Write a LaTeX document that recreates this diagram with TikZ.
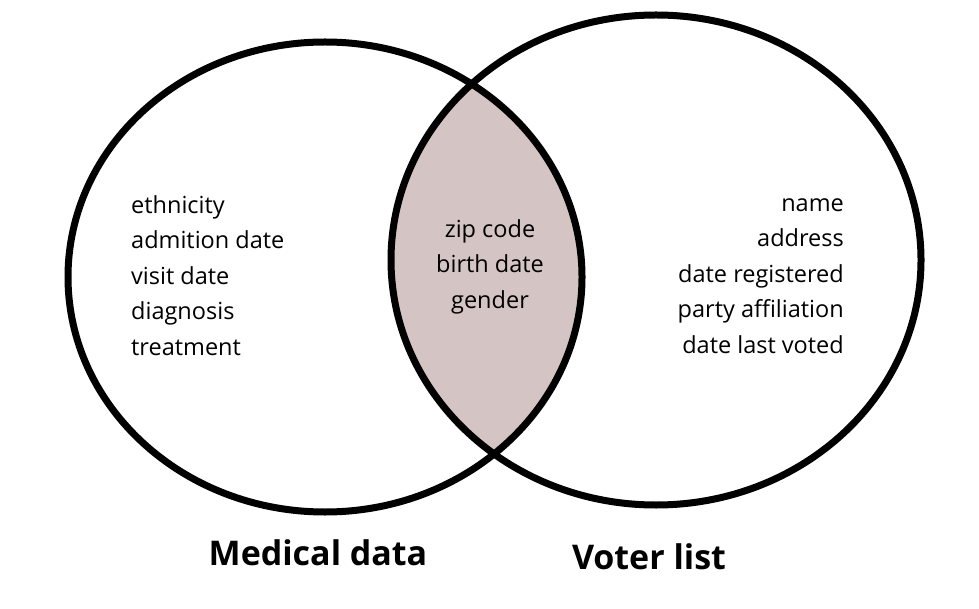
\documentclass[tikz,border=0pt]{standalone}
\usepackage{fontspec}
\setmainfont{Open Sans}
\begin{document}
\begin{tikzpicture}[x=1pt,y=-1pt,
  item/.style={font=\fontsize{23.5}{35.5}\selectfont, inner sep=0pt},
  title/.style={font=\fontsize{34}{40}\selectfont\bfseries, inner sep=0pt}]
\useasboundingbox (0,0) rectangle (979,609);
\begin{scope}
  \clip (325,277) ellipse [x radius=257, y radius=235];
  \fill[fill={rgb,255:red,213;green,196;blue,196}] (656,260) ellipse [x radius=265, y radius=245];
\end{scope}
\draw[line width=7pt] (325,277) ellipse [x radius=257, y radius=235];
\draw[line width=7pt] (656,260) ellipse [x radius=265, y radius=245];
\node[item, align=left, anchor=north west] (med) at (131,195) {ethnicity\\admition date\\visit date\\diagnosis\\treatment};
\node[item, align=center, anchor=north] (both) at (490,219) {zip code\\birth date\\gender};
\node[item, align=right, anchor=north east] (vot) at (844,198) {name\\address\\date registered\\party affiliation\\date last voted};
\node[title] (t1) at (318,553) {Medical data};
\node[title] (t2) at (649,557) {Voter list};
\end{tikzpicture}
\end{document}
